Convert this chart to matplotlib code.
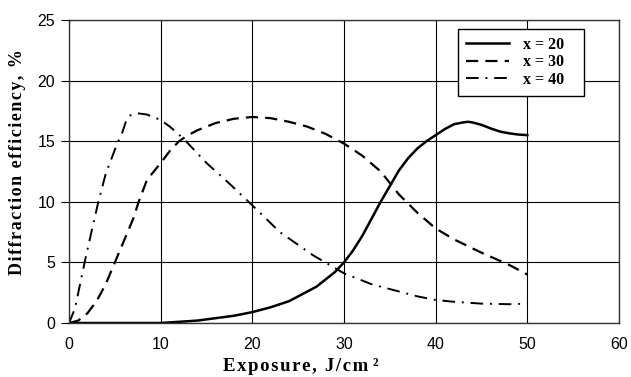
import numpy as np
import matplotlib
matplotlib.use("Agg")
import matplotlib.pyplot as plt

# exposure (J/cm^2) vs diffraction efficiency (%) for three compositions
exp_20 = [0, 5, 10, 12, 14, 16, 18, 20, 22, 24, 25, 26, 27, 28, 29, 30, 31, 32, 33, 34, 35, 36, 37, 38, 39, 40, 41, 42, 43, 43.5, 44, 45, 46, 47, 48, 49, 50]
eff_20 = [0, 0, 0, 0.1, 0.2, 0.4, 0.6, 0.9, 1.3, 1.8, 2.2, 2.6, 3.0, 3.6, 4.2, 5.0, 6.0, 7.2, 8.6, 10.0, 11.3, 12.6, 13.6, 14.4, 15.0, 15.5, 16.0, 16.4, 16.55, 16.6, 16.55, 16.35, 16.05, 15.8, 15.65, 15.55, 15.5]

exp_30 = [0, 1, 2, 3, 4, 5, 6, 7, 7.6, 8.5, 10, 11, 12, 13, 14, 16, 18, 20, 22, 24, 26, 28, 30, 32, 34, 36, 38, 40, 42, 45, 48, 50]
eff_30 = [0, 0.2, 0.8, 1.8, 3.2, 5.0, 6.8, 8.6, 10.0, 11.8, 13.2, 14.2, 15.0, 15.5, 15.9, 16.5, 16.85, 17.0, 16.9, 16.6, 16.2, 15.6, 14.8, 13.8, 12.5, 10.6, 9.1, 7.8, 6.9, 5.8, 4.8, 4.0]

exp_40 = [0, 0.65, 1.7, 2.5, 3.2, 4.0, 4.5, 5.2, 5.8, 6.2, 6.6, 7.0, 7.5, 8.5, 10, 11, 12.5, 15, 17.5, 20, 23, 26.6, 30, 33, 35, 38, 40, 42, 45, 48, 50]
eff_40 = [0, 1.2, 5.0, 7.7, 10.0, 12.3, 13.3, 14.7, 15.7, 16.6, 17.1, 17.25, 17.3, 17.2, 16.75, 16.2, 15.2, 13.2, 11.5, 9.7, 7.5, 5.6, 4.1, 3.2, 2.8, 2.2, 1.9, 1.75, 1.6, 1.55, 1.6]

labels = ["x = 20", "x = 30", "x = 40"]

serif = ["Liberation Serif", "DejaVu Serif"]
sans = ["Liberation Sans", "DejaVu Sans"]

def spaced(s):
    # slight letter spacing for axis titles
    return "\u200a".join(s)

fig = plt.figure(figsize=(6.31, 3.77), dpi=100)
ax = fig.add_axes([0.1094, 0.1432, 0.8716, 0.8038])

ax.plot(exp_20, eff_20, color="black", lw=1.8, label=labels[0])
ax.plot(exp_30, eff_30, color="black", lw=1.6, dashes=(5.5, 3.2), label=labels[1])
ax.plot(exp_40, eff_40, color="black", lw=1.4, dashes=(6.5, 3.5, 1, 3.5), label=labels[2])

ax.set_xlim(0, 60)
ax.set_ylim(0, 25)
ax.set_xticks(np.arange(0, 61, 10))
ax.set_yticks(np.arange(0, 26, 5))
ax.grid(True, color="black", lw=0.8)
ax.set_axisbelow(True)
for sp in ax.spines.values():
    sp.set_color("#333333")
    sp.set_linewidth(1.0)

ax.tick_params(axis="y", length=6, width=0.8, pad=4)
ax.tick_params(axis="x", length=0, pad=10)
for lab in ax.get_xticklabels() + ax.get_yticklabels():
    lab.set_family(sans)
    lab.set_fontsize(11.5)

ax.set_xlabel(spaced("Exposure, J/cm") + " ²", family=serif, fontweight="bold", fontsize=13.5)
ax.xaxis.set_label_coords(0.422, -0.115)
ax.set_ylabel(spaced("Diffraction efficiency, %"), family=serif, fontweight="bold", fontsize=13)
ax.yaxis.set_label_coords(-0.078, 0.53)

leg = ax.legend(loc="upper left", bbox_to_anchor=(0.707, 0.970, 0.229, 0.0), mode="expand",
                borderaxespad=0,
                prop={"family": serif, "weight": "bold", "size": 11.5},
                handlelength=2.7, handletextpad=0.9, labelspacing=0.08,
                fancybox=False, framealpha=1, edgecolor="black", borderpad=0.5)
leg.get_frame().set_linewidth(1.0)

fig.savefig("out.png", dpi=100)
